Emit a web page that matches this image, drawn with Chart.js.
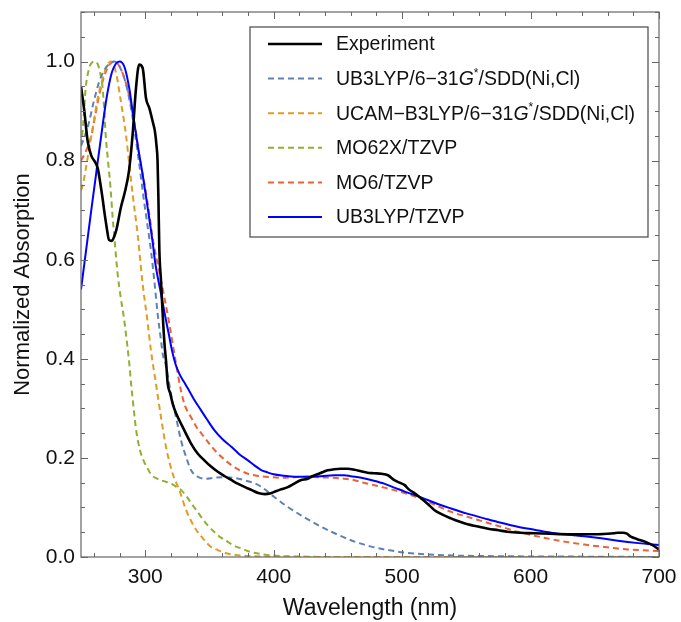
<!DOCTYPE html>
<html><head><meta charset="utf-8">
<script src="https://cdn.jsdelivr.net/npm/chart.js@4.4.0/dist/chart.umd.min.js"></script>
<style>html,body{margin:0;padding:0;background:#fff}#wrap{width:681px;height:622px;position:relative}</style>
</head><body><div id="wrap"><canvas id="c" width="681" height="622"></canvas></div>
<script>
// ---------------- data ----------------
const seriesNames = ["Experiment","UB3LYP/6\u221231G*/SDD(Ni,Cl)","UCAM\u2212B3LYP/6\u221231G*/SDD(Ni,Cl)","MO62X/TZVP","MO6/TZVP","UB3LYP/TZVP"];
const xTickValues = [300,400,500,600,700];
const yTickValues = [0,0.2,0.4,0.6,0.8,1.0];

const expX = [250,252.6,255.2,258,261,263,265,267,268,270,271.8,274,275.7,277.5,281,284,287.4,290.2,292.8,295.3,298,300.6,303.2,305.8,307.5,308.8,309.6,310.3,311,312.3,313.6,315,316.2,317.5,319.5,321.4,324.5,327.9,331.5,335.7,340.5,346,351,356.5,362,367.3,372,377.7,383,388,393,397,400,405,411,416,421,426.5,430,436,442,447,452,457.7,463,468,473,478,484,489,494,498,502,505,509,514,520,525,531,538,545,551,558,567,575,582,592,603,615,629,640,650,660,665,668,672,675,678,683,689,695,700];
const expY = [0.95,0.90,0.839,0.81,0.797,0.785,0.755,0.72,0.70,0.665,0.64,0.638,0.646,0.66,0.705,0.735,0.78,0.853,0.946,0.994,0.987,0.926,0.906,0.879,0.86,0.83,0.80,0.72,0.62,0.557,0.49,0.43,0.396,0.35,0.33,0.309,0.287,0.269,0.25,0.229,0.21,0.195,0.183,0.172,0.163,0.155,0.148,0.141,0.135,0.129,0.127,0.128,0.131,0.136,0.141,0.148,0.155,0.158,0.163,0.169,0.175,0.177,0.178,0.178,0.176,0.173,0.17,0.169,0.168,0.165,0.155,0.15,0.145,0.137,0.13,0.12,0.107,0.095,0.086,0.078,0.071,0.066,0.062,0.057,0.054,0.051,0.049,0.048,0.047,0.046,0.046,0.046,0.047,0.048,0.049,0.049,0.047,0.041,0.036,0.031,0.024,0.015];

const b3sddX = [250,253,256,260,264,268,272,276,280,285,290,295,299,302,304.5,307.1,309.7,312.3,313.6,316.2,320.1,324,327.9,331.8,335.7,340.9,347.3,353.8,361.6,368,374.6,380,385,390.2,400.5,411,424,437,450,463,476,489,502,515,540,580,620,660,700];
const b3sddY = [0.83,0.85,0.875,0.92,0.958,0.982,0.995,1.0,0.99,0.955,0.89,0.80,0.72,0.665,0.618,0.557,0.49,0.437,0.41,0.385,0.329,0.282,0.235,0.202,0.175,0.162,0.158,0.16,0.161,0.16,0.157,0.153,0.149,0.142,0.121,0.101,0.08,0.061,0.045,0.031,0.021,0.014,0.009,0.006,0.003,0.0015,0.001,0.0005,0];

const camX = [250,251.3,255.2,259.1,263,266.9,270.5,273.4,277.3,281,285,287.6,290.2,294.1,295.4,298,301.4,304.5,308.4,312.3,316.2,321.4,326.6,331.8,338.2,346,351,356.5,364,370,380,395,420,700];
const camY = [0.74,0.75,0.806,0.866,0.926,0.966,0.993,1.0,0.977,0.92,0.852,0.792,0.732,0.651,0.618,0.551,0.483,0.416,0.349,0.282,0.222,0.168,0.135,0.095,0.061,0.034,0.021,0.014,0.007,0.004,0.002,0.001,0,0];

const m062xX = [250,251.6,253.6,256.2,258.5,260.9,263,264,265.5,266.6,268,269.2,271,273,274.5,276,278.3,280.9,283,285,287.6,289,291,293,296,299,302,305,308.5,312,316,320,324,328,332,336,340,343.5,348,354,359,364,369,375,381,388,395,405,420,440,480,700];
const m062xY = [0.83,0.87,0.945,0.985,0.998,1.0,0.995,0.987,0.97,0.953,0.906,0.852,0.80,0.745,0.69,0.645,0.577,0.524,0.49,0.45,0.39,0.35,0.30,0.255,0.215,0.193,0.178,0.165,0.159,0.155,0.152,0.148,0.142,0.135,0.123,0.108,0.094,0.081,0.066,0.05,0.039,0.031,0.023,0.017,0.011,0.007,0.004,0.002,0.001,0,0,0];

const m06X = [250,254,258,261,264,268,272,276,280,284,288,292,296,300,303,306,309.7,314.9,318.8,321.4,324,327.9,331,335.7,340,346,351,356.5,362,367.3,373,380,385,390,398,405,415,423.9,435,444.7,455,462.9,470,478.4,486,494,503,512.2,525,538.2,551,564.1,577,590,603,616,629,642,655,668,684,700];
const m06Y = [0.80,0.82,0.85,0.89,0.93,0.97,0.993,1.0,0.99,0.965,0.925,0.87,0.80,0.745,0.695,0.64,0.591,0.524,0.47,0.43,0.39,0.335,0.305,0.282,0.262,0.242,0.225,0.209,0.196,0.185,0.176,0.168,0.165,0.163,0.161,0.16,0.161,0.162,0.161,0.16,0.158,0.155,0.15,0.145,0.14,0.135,0.128,0.12,0.106,0.091,0.081,0.071,0.061,0.051,0.043,0.036,0.03,0.025,0.021,0.017,0.014,0.012];

const b3tzX = [250,254,258,262,266,270,274,277,280,283.7,287.6,290.2,294.1,298,301.9,305.8,308,312,316,318.5,321,323.5,326.5,330,333,338,343.5,348,353.8,360,367.3,373,380,385,390,395,400,408,416,425,437,447,455,460,470,478,486,495,502,510,520,530,538,550,564,577,590,603,616,629,642,655,668,684,700];
const b3tzY = [0.54,0.62,0.70,0.778,0.855,0.928,0.978,0.995,1.0,0.99,0.946,0.899,0.832,0.772,0.705,0.635,0.59,0.535,0.48,0.448,0.415,0.39,0.37,0.354,0.341,0.318,0.296,0.278,0.256,0.238,0.222,0.208,0.195,0.185,0.176,0.171,0.167,0.164,0.162,0.162,0.163,0.165,0.165,0.163,0.159,0.154,0.148,0.139,0.132,0.125,0.115,0.105,0.098,0.088,0.078,0.069,0.061,0.055,0.049,0.045,0.042,0.038,0.033,0.028,0.024];

// ---------------- chart ----------------
const FONT = "'Liberation Sans', Arial, sans-serif";
const pts = (xs, ys) => xs.map((x, i) => ({x: x, y: ys[i]}));
function ds(label, xs, ys, color, width, dash) {
  return {label: label, data: pts(xs, ys), borderColor: color, backgroundColor: color,
    borderWidth: width, borderDash: dash, pointRadius: 0, fill: false,
    cubicInterpolationMode: 'monotone', borderCapStyle: 'butt'};
}
const DASH = [6, 4];
const datasets = [
  ds(seriesNames[0], expX, expY, '#000000', 2.6, []),
  ds(seriesNames[1], b3sddX, b3sddY, '#5E81B5', 2, DASH),
  ds(seriesNames[2], camX, camY, '#E19C24', 2, DASH),
  ds(seriesNames[3], m062xX, m062xY, '#8FB032', 2, DASH),
  ds(seriesNames[4], m06X, m06Y, '#EB6235', 2, DASH),
  ds(seriesNames[5], b3tzX, b3tzY, '#0000FF', 2, [])
];
datasets[0].order = 0; datasets[5].order = 1;
[1,2,3,4].forEach(i => datasets[i].order = 2 + i);

const framePlugin = {
  id: 'frame',
  afterDatasetsDraw(chart) {
    const {ctx, chartArea: a, scales: {x, y}} = chart;
    ctx.save();
    ctx.strokeStyle = '#666'; ctx.lineWidth = 1.2;
    ctx.strokeRect(a.left, a.top, a.right - a.left, a.bottom - a.top);
    ctx.lineWidth = 1;
    ctx.beginPath();
    for (let v = 260; v <= 700; v += 20) {
      const px = Math.round(x.getPixelForValue(v)) + 0.5;
      const L = (v % 100 === 0) ? 7 : 4;
      ctx.moveTo(px, a.bottom); ctx.lineTo(px, a.bottom - L);
      ctx.moveTo(px, a.top); ctx.lineTo(px, a.top + L);
    }
    for (let k = 0; k <= 22; k++) {
      const v = k * 0.05;
      const py = Math.round(y.getPixelForValue(v)) + 0.5;
      const L = (k % 4 === 0) ? 7 : 4;
      ctx.moveTo(a.left, py); ctx.lineTo(a.left + L, py);
      ctx.moveTo(a.right, py); ctx.lineTo(a.right - L, py);
    }
    ctx.stroke();
    ctx.restore();
  }
};

function drawLegendLabel(ctx, text, x, y, size) {
  const parts = text.split('G*');
  let cx = x;
  const normal = size + 'px ' + FONT;
  const italic = 'italic ' + size + 'px ' + FONT;
  const small = Math.round(size * 0.62) + 'px ' + FONT;
  parts.forEach((p, i) => {
    ctx.font = normal; ctx.fillText(p, cx, y); cx += ctx.measureText(p).width;
    if (i < parts.length - 1) {
      ctx.font = italic; ctx.fillText('G', cx, y); cx += ctx.measureText('G').width;
      ctx.font = small; ctx.fillText('*', cx, y - size * 0.32); cx += ctx.measureText('*').width;
    }
  });
}

const legendPlugin = {
  id: 'boxLegend',
  afterDraw(chart) {
    const {ctx} = chart;
    const bx = 250, by = 27, bw = 398, bh = 210;
    ctx.save();
    ctx.fillStyle = '#fff'; ctx.fillRect(bx, by, bw, bh);
    ctx.strokeStyle = '#555'; ctx.lineWidth = 1.3;
    ctx.strokeRect(bx, by, bw, bh);
    const rowY0 = 44, rowStep = 34.6;
    ctx.textBaseline = 'middle'; ctx.textAlign = 'left';
    chart.data.datasets.forEach((d, i) => {
      const ry = rowY0 + i * rowStep;
      ctx.strokeStyle = d.borderColor; ctx.lineWidth = d.borderWidth;
      ctx.setLineDash(d.borderDash || []);
      ctx.beginPath(); ctx.moveTo(268, ry); ctx.lineTo(322, ry); ctx.stroke();
      ctx.setLineDash([]);
      ctx.fillStyle = '#111';
      drawLegendLabel(ctx, d.label, 336, ry + 1, 19.5);
    });
    ctx.restore();
  }
};

new Chart(document.getElementById('c'), {
  type: 'line',
  data: {datasets: datasets},
  options: {
    responsive: false, animation: false, devicePixelRatio: 1,
    layout: {padding: {left: 0, right: 22, top: 12, bottom: 0}},
    plugins: {legend: {display: false}, tooltip: {enabled: false}},
    scales: {
      x: {
        type: 'linear', min: 250, max: 700,
        afterBuildTicks: s => { s.ticks = xTickValues.map(v => ({value: v})); },
        afterFit: s => { s.height = 65; s.paddingLeft = 0; s.paddingRight = 0; },
        grid: {display: false, drawTicks: false},
        border: {display: false},
        ticks: {padding: 8, color: '#111', font: {family: FONT, size: 21}, maxRotation: 0,
                callback: v => String(v)},
        title: {display: true, text: 'Wavelength (nm)', color: '#111',
                font: {family: FONT, size: 23}, padding: {top: 0, bottom: 0}}
      },
      y: {
        type: 'linear', min: 0, max: 1.1,
        afterBuildTicks: s => { s.ticks = yTickValues.map(v => ({value: v})); },
        afterFit: s => { s.width = 81; s.paddingTop = 0; s.paddingBottom = 0; },
        grid: {display: false, drawTicks: false},
        border: {display: false},
        ticks: {padding: 6, color: '#111', font: {family: FONT, size: 21},
                callback: v => Number(v).toFixed(1)},
        title: {display: true, text: 'Normalized Absorption', color: '#111',
                font: {family: FONT, size: 22}, padding: {top: 10, bottom: 0}}
      }
    }
  },
  plugins: [framePlugin, legendPlugin]
});
</script>
</body></html>
